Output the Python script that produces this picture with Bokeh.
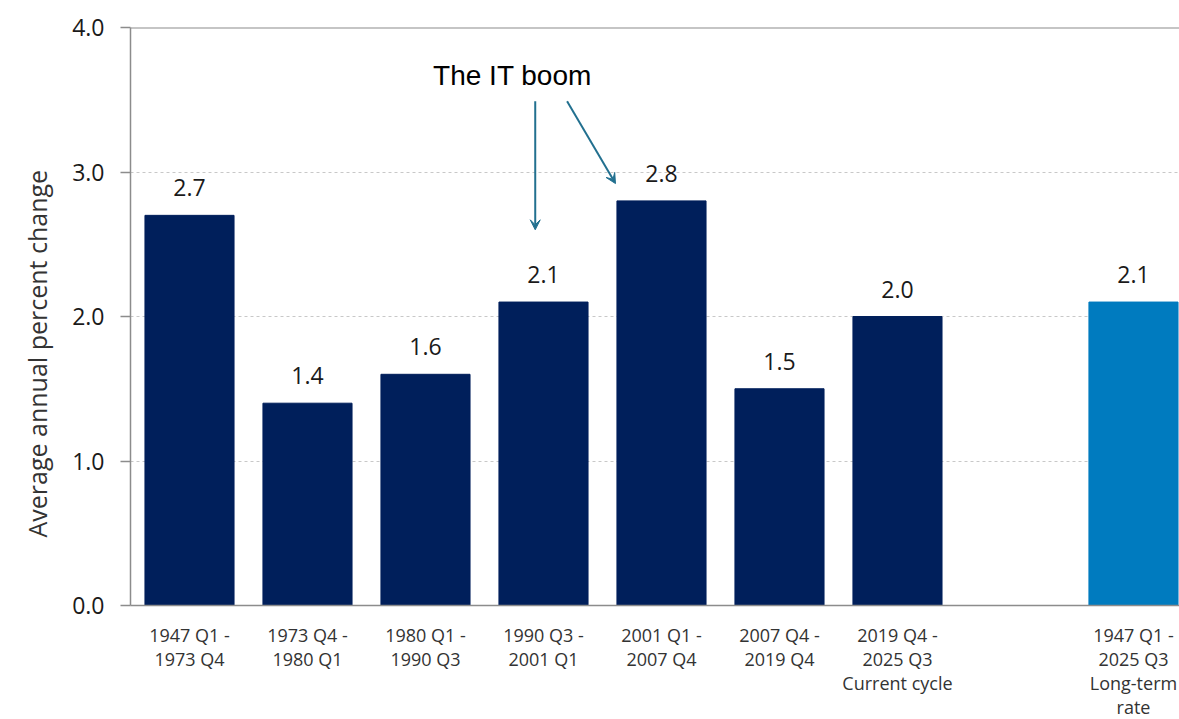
import math
from bokeh.plotting import figure
from bokeh.models import ColumnDataSource, FixedTicker, Span, Arrow, VeeHead, Label, LabelSet, Title
from bokeh.core.properties import value
from bokeh.embed import file_html
from bokeh.resources import INLINE

categories = ["1947 Q1 -\n1973 Q4", "1973 Q4 -\n1980 Q1", "1980 Q1 -\n1990 Q3",
              "1990 Q3 -\n2001 Q1", "2001 Q1 -\n2007 Q4", "2007 Q4 -\n2019 Q4",
              "2019 Q4 -\n2025 Q3\nCurrent cycle", "1947 Q1 -\n2025 Q3\nLong-term\nrate"]
positions = [0, 1, 2, 3, 4, 5, 6, 8]
values = [2.7, 1.4, 1.6, 2.1, 2.8, 1.5, 2.0, 2.1]
colors = ["#001F5B"] * 7 + ["#007BBF"]
value_labels = [f"{v:.1f}" for v in values]
y_ticks = [0.0, 1.0, 2.0, 3.0, 4.0]

FONT = "Open Sans"

src = ColumnDataSource(dict(x=positions, top=values, color=colors, lab=value_labels))

p = figure(width=1179, frame_height=578, output_backend="svg", toolbar_location=None,
           x_range=(-0.5, 8.39), y_range=(0, 4.0),
           min_border_left=130, min_border_right=0, min_border_top=27, min_border_bottom=114)
p.outline_line_color = None
p.background_fill_color = "white"

p.vbar(x="x", top="top", width=0.755, color="color", source=src)

labels = LabelSet(x="x", y="top", text="lab", source=src, text_align="center",
                  text_baseline="bottom", y_offset=19, text_font=value(FONT),
                  text_font_size="23px", text_color="#1a1a1a")
p.add_layout(labels)

# axes
p.xaxis.ticker = FixedTicker(ticks=positions)
p.xaxis.major_label_overrides = {pos: c for pos, c in zip(positions, categories)}
p.xaxis.major_label_text_font = FONT
p.xaxis.major_label_text_font_size = "18px"
p.xaxis.major_label_text_line_height = 1.0
p.xaxis.major_label_text_color = "#333333"
p.xaxis.major_label_standoff = 11
p.xaxis.major_tick_line_color = None
p.xaxis.minor_tick_line_color = None
p.xaxis.axis_line_color = "#8c8c8c"
p.xaxis.axis_line_width = 1.5

p.yaxis.ticker = FixedTicker(ticks=y_ticks)
p.yaxis.major_label_overrides = {t: f"{t:.1f}" for t in y_ticks}
p.yaxis.major_label_text_font = FONT
p.yaxis.major_label_text_font_size = "23px"
p.yaxis.major_label_text_color = "#1a1a1a"
p.yaxis.major_tick_out = 10
p.yaxis.major_tick_in = 0
p.yaxis.major_tick_line_color = "#8c8c8c"
p.yaxis.major_tick_line_width = 1.5
p.yaxis.minor_tick_line_color = None
p.yaxis.axis_line_color = "#8c8c8c"
p.yaxis.axis_line_width = 1.5
p.yaxis.major_label_standoff = 16

p.xgrid.grid_line_color = None
p.ygrid.grid_line_color = "#c8c8c8"
p.ygrid.grid_line_dash = "3 3"
p.ygrid.grid_line_width = 1

p.add_layout(Span(location=4.0, dimension="width", line_color="#8c8c8c", line_width=2))

# y axis title
p.add_layout(Title(text="Average annual percent change", align="left", offset=68,
                   standoff=31, text_font=FONT, text_font_size="25px",
                   text_font_style="normal", text_color="#333333"), "left")

# annotation
p.add_layout(Label(x=2.737, y=3.668, text="The IT boom", text_align="center",
                   text_baseline="middle", text_font="Liberation Sans",
                   text_font_size="28px", text_color="#000000"))
arrow_color = "#22708F"
p.add_layout(Arrow(x_start=2.93, y_start=3.49, x_end=2.93, y_end=2.60,
                   line_color=arrow_color, line_width=2,
                   end=VeeHead(size=10, fill_color=arrow_color, line_color=arrow_color)))
p.add_layout(Arrow(x_start=3.20, y_start=3.49, x_end=3.61, y_end=2.92,
                   line_color=arrow_color, line_width=2,
                   end=VeeHead(size=10, fill_color=arrow_color, line_color=arrow_color)))

open("out.html", "w").write(file_html(p, INLINE))
